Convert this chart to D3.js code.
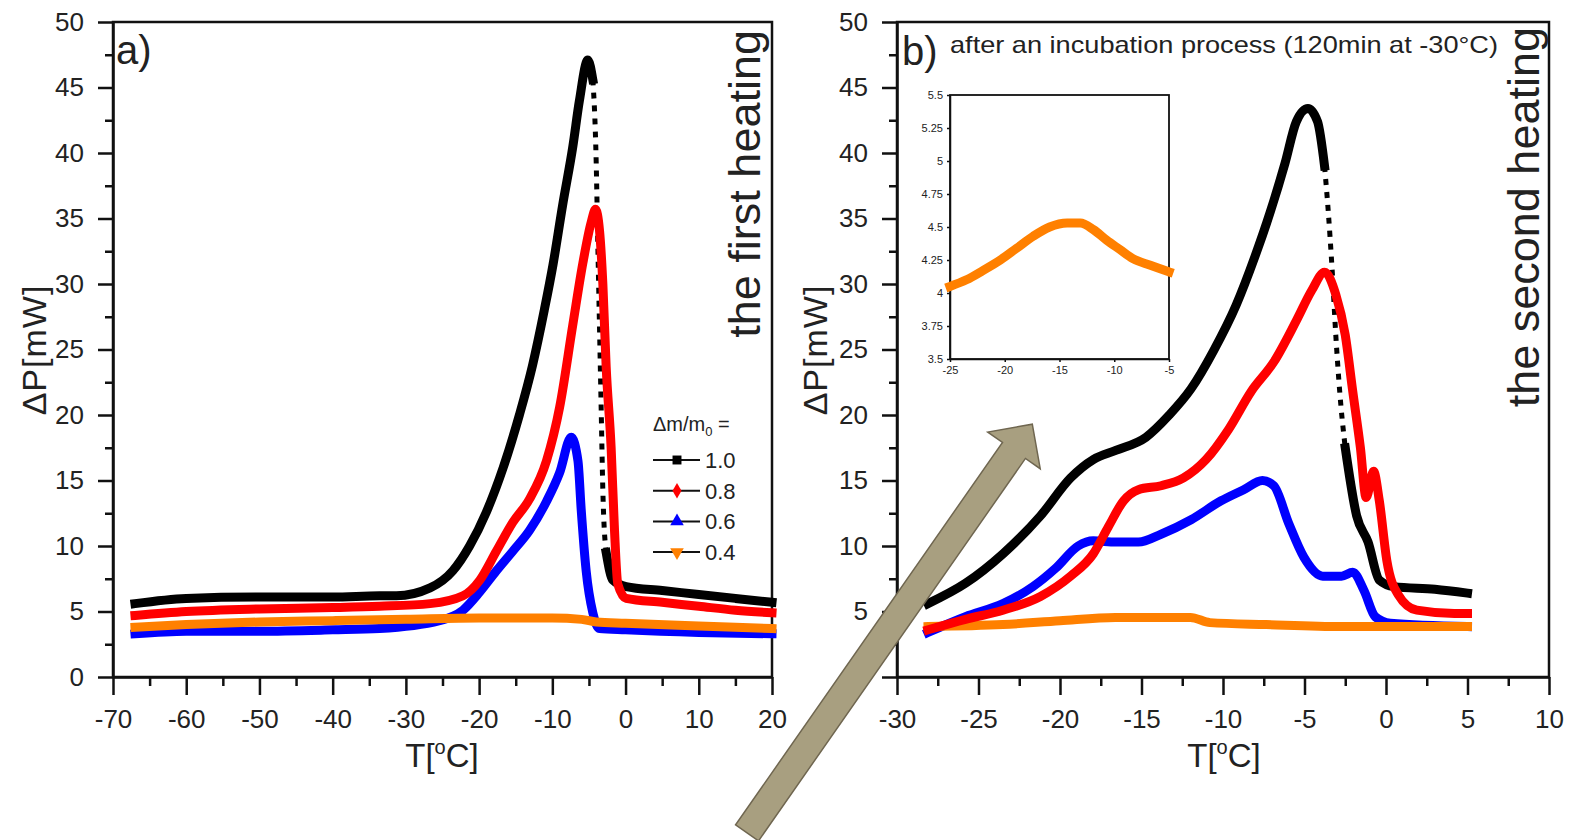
<!DOCTYPE html>
<html>
<head>
<meta charset="utf-8">
<script src="https://cdn.jsdelivr.net/npm/d3@7"></script>
<style>
  body { margin: 0; background: #fff; }
  text { font-family: "Liberation Sans", Arial, sans-serif; fill: #222; }
</style>
</head>
<body>
<svg id="chart" width="1573" height="840"></svg>
<script>
// ---- data: [T (°C), ΔP (mW)] ----
const blackA = [[-67,5.6],[-60,6.0],[-50,6.1],[-40,6.1],[-33.6,6.2],[-31.3,6.2],[-26.7,6.8],[-23.6,8.1],[-21.3,10.0],[-19.0,12.6],[-16.7,16.0],[-14.5,20.0],[-12.7,23.8],[-11.1,28.0],[-9.9,31.5],[-8.6,36.0],[-7.2,40.5],[-6.3,44.0],[-5.15,47.1],[-4.47,45.6],[-4.01,39.3],[-3.79,33.1],[-3.56,26.8],[-3.33,20.5],[-3.1,14.2],[-2.65,9.5],[-1.74,7.4],[0.08,6.9],[5,6.6],[10,6.3],[15,6.0],[20,5.7]];
const redA = [[-67,4.7],[-60,5.0],[-50,5.2],[-40,5.3],[-33.6,5.4],[-26.7,5.6],[-22.2,6.2],[-19.9,7.4],[-17.65,9.6],[-15.4,11.8],[-13.1,13.6],[-10.8,16.5],[-9.0,20.6],[-7.2,26.9],[-5.83,31.6],[-4.7,34.7],[-4.1,35.7],[-3.56,34.1],[-3.1,30.0],[-2.65,23.7],[-1.97,17.5],[-1.51,11.2],[-1.06,7.1],[0.08,6.0],[5,5.7],[10,5.4],[15,5.1],[20,4.9]];
const blueA = [[-67,3.3],[-60,3.5],[-50,3.5],[-40,3.6],[-33.6,3.7],[-25.4,4.3],[-22.2,5.1],[-19.9,6.5],[-17.65,8.1],[-15.4,9.6],[-13.1,11.2],[-10.8,13.4],[-9.0,15.6],[-7.42,18.3],[-6.5,16.5],[-6.06,12.8],[-5.38,8.1],[-4.47,4.9],[-3.56,3.7],[0,3.6],[10,3.4],[20,3.3]];
const orangeA = [[-67,3.8],[-60,4.0],[-50,4.2],[-40,4.3],[-30,4.4],[-20,4.5],[-10,4.5],[-6,4.4],[-4,4.2],[0,4.1],[10,3.9],[20,3.7]];

const blackB = [[-28.1,5.6],[-25.8,7.15],[-23.5,9.4],[-21.2,12.3],[-19.35,15.2],[-17.96,16.6],[-16.58,17.3],[-14.73,18.3],[-13.3,20.0],[-11.96,22.0],[-10.58,24.9],[-9.19,28.4],[-8.04,32.1],[-7.1,35.5],[-6.2,39.2],[-5.5,42.4],[-4.79,43.4],[-4.2,42.4],[-3.77,39.0],[-3.54,35.5],[-3.31,31.2],[-3.08,26.1],[-2.84,21.8],[-2.5,17.5],[-1.8,12.3],[-1.1,10.3],[-0.41,7.4],[0.5,6.9],[3.0,6.7],[5.0,6.4]];
const redB = [[-28.1,3.6],[-25.8,4.4],[-23.5,5.1],[-21.2,6.15],[-19.35,7.7],[-17.96,9.4],[-17.04,11.45],[-16.1,13.45],[-15.19,14.3],[-13.8,14.6],[-12.42,15.2],[-11.04,16.6],[-9.66,18.9],[-8.27,21.8],[-6.88,24.05],[-5.5,27.2],[-4.56,29.5],[-3.77,30.9],[-3.08,29.2],[-2.5,26.1],[-2.04,21.8],[-1.57,17.5],[-1.22,13.7],[-0.76,15.7],[-0.41,13.45],[0.05,8.9],[0.74,6.3],[1.89,5.1],[4.19,4.85],[5.0,4.85]];
const blueB = [[-28.1,3.4],[-25.8,4.6],[-23.5,5.6],[-21.66,6.9],[-20.27,8.3],[-18.89,10.0],[-17.96,10.4],[-16.58,10.3],[-15.19,10.3],[-13.8,10.9],[-11.96,12.0],[-10.12,13.45],[-8.73,14.3],[-7.58,15.0],[-6.88,14.6],[-5.96,11.7],[-5.04,9.15],[-3.88,7.7],[-2.73,7.7],[-2.04,8.0],[-1.35,6.6],[-0.66,4.6],[0.27,4.1],[5.0,3.85]];
const orangeB = [[-28.1,3.85],[-23.5,4.0],[-20.0,4.3],[-16.6,4.55],[-12.0,4.55],[-10.8,4.15],[-7.35,4.0],[-2.7,3.85],[5.0,3.85]];

const insetOrange = [[-25,4.05],[-23.5,4.10],[-22,4.17],[-20.4,4.25],[-18.9,4.34],[-17.4,4.43],[-15.9,4.50],[-14.3,4.53],[-13.1,4.53],[-11.9,4.48],[-10.7,4.40],[-9.5,4.33],[-8.3,4.26],[-6.7,4.21],[-5,4.16]];

// ranges where the sampled points are sparse (steep fall) -> dotted look
const sparseBlackA = [-4.47, -2.65];
const sparseBlackB = [-3.77, -2.5];

const legendTitle = "Δm/m";
const legendLabels = ["1.0", "0.8", "0.6", "0.4"];
const colors = ["#000000", "#ff0000", "#0000ff", "#ff8000"];

const xTicksA = d3.range(-70, 21, 10), xMinorA = d3.range(-65, 20, 10);
const xTicksB = d3.range(-30, 11, 5), xMinorB = d3.range(-27.5, 10, 5);
const yTicks = d3.range(0, 51, 5), yMinor = d3.range(2.5, 50, 5);
const insetXTicks = [-25, -20, -15, -10, -5];
const insetYTicks = [3.5, 3.75, 4, 4.25, 4.5, 4.75, 5, 5.25, 5.5];

// ---- drawing ----
const svg = d3.select('#chart');
svg.append('rect').attr('width', 1573).attr('height', 840).attr('fill', '#fff');

function styleAxis(g, size) {
  g.selectAll('path, line').attr('stroke', '#111').attr('stroke-width', 2.5);
  g.selectAll('text').attr('font-size', size).attr('font-family', '"Liberation Sans", Arial, sans-serif').attr('fill', '#222');
}

function drawFrame(x, y, xT, xM) {
  const g = svg.append('g');
  const [x0, x1] = x.range(), [y0, y1] = y.range();
  g.append('rect').attr('x', x0).attr('y', y1).attr('width', x1 - x0).attr('height', y0 - y1)
    .attr('fill', 'none').attr('stroke', '#111').attr('stroke-width', 2.5);

  const fmt = d => String(d);
  g.append('g').attr('transform', `translate(0,${y0})`)
    .call(d3.axisBottom(x).tickValues(xT).tickSize(18).tickSizeOuter(0).tickPadding(15).tickFormat(fmt))
    .call(a => styleAxis(a, 26));
  g.append('g').attr('transform', `translate(0,${y0})`)
    .call(d3.axisBottom(x).tickValues(xM).tickSize(9).tickSizeOuter(0).tickFormat(''))
    .call(a => { styleAxis(a, 26); a.select('.domain').remove(); });
  g.append('g').attr('transform', `translate(${x0},0)`)
    .call(d3.axisLeft(y).tickValues(yTicks).tickSize(15).tickSizeOuter(0).tickPadding(14).tickFormat(fmt))
    .call(a => styleAxis(a, 26));
  g.append('g').attr('transform', `translate(${x0},0)`)
    .call(d3.axisLeft(y).tickValues(yMinor).tickSize(8).tickSizeOuter(0).tickFormat(''))
    .call(a => { styleAxis(a, 26); a.select('.domain').remove(); });
}

function drawSeries(x, y, data, color, sparse) {
  const g = svg.append('g');
  const inside = d => sparse && d[0] > sparse[0] && d[0] < sparse[1];
  const line = d3.line().x(d => x(d[0])).y(d => y(d[1])).defined(d => !inside(d)).curve(d3.curveMonotoneX);
  g.append('path').datum(data).attr('d', line)
    .attr('fill', 'none').attr('stroke', color).attr('stroke-width', 9)
    .attr('stroke-linejoin', 'round').attr('stroke-linecap', 'square');
  if (sparse) {
    const pts = data.filter(d => d[0] >= sparse[0] && d[0] <= sparse[1]);
    g.append('path').datum(pts).attr('d', d3.line().x(d => x(d[0])).y(d => y(d[1])).curve(d3.curveMonotoneX))
      .attr('fill', 'none').attr('stroke', color).attr('stroke-width', 5)
      .attr('stroke-dasharray', '6 7');
  }
}

// Panel a
const xA = d3.scaleLinear().domain([-70, 20]).range([113, 772]);
const yA = d3.scaleLinear().domain([0, 50]).range([677, 22]);
drawFrame(xA, yA, xTicksA, xMinorA);
drawSeries(xA, yA, blackA, colors[0], sparseBlackA);
drawSeries(xA, yA, blueA, colors[2]);
drawSeries(xA, yA, orangeA, colors[3]);
drawSeries(xA, yA, redA, colors[1]);

// Panel b
const xB = d3.scaleLinear().domain([-30, 10]).range([897, 1549]);
const yB = d3.scaleLinear().domain([0, 50]).range([677, 22]);
drawFrame(xB, yB, xTicksB, xMinorB);
drawSeries(xB, yB, blackB, colors[0], sparseBlackB);
drawSeries(xB, yB, blueB, colors[2]);
drawSeries(xB, yB, orangeB, colors[3]);
drawSeries(xB, yB, redB, colors[1]);

// Inset
const xI = d3.scaleLinear().domain([-25, -5]).range([950, 1169]);
const yI = d3.scaleLinear().domain([3.5, 5.5]).range([359, 95]);
const gi = svg.append('g');
gi.append('rect').attr('x', 950).attr('y', 95).attr('width', 219).attr('height', 264)
  .attr('fill', '#fff').attr('stroke', '#111').attr('stroke-width', 1.8);
gi.append('g').attr('transform', 'translate(0,359)')
  .call(d3.axisBottom(xI).tickValues(insetXTicks).tickSize(3).tickSizeOuter(0).tickPadding(4).tickFormat(d => String(d)))
  .call(a => { styleAxis(a, 11); a.selectAll('path,line').attr('stroke-width', 1.5); a.selectAll('text').attr('fill', '#555'); });
gi.append('g').attr('transform', 'translate(950,0)')
  .call(d3.axisLeft(yI).tickValues(insetYTicks).tickSize(3).tickSizeOuter(0).tickPadding(4).tickFormat(d => String(d)))
  .call(a => { styleAxis(a, 11); a.selectAll('path,line').attr('stroke-width', 1.5); a.selectAll('text').attr('fill', '#555'); });
gi.append('path').datum(insetOrange)
  .attr('d', d3.line().x(d => xI(d[0])).y(d => yI(d[1])).curve(d3.curveMonotoneX))
  .attr('fill', 'none').attr('stroke', colors[3]).attr('stroke-width', 9).attr('stroke-linecap', 'square');

// Legend (panel a)
const lg = svg.append('g');
const lt = lg.append('text').attr('x', 653).attr('y', 431).attr('font-size', 20);
lt.append('tspan').text(legendTitle);
lt.append('tspan').attr('font-size', 13).attr('dy', 5).text('0');
lt.append('tspan').attr('dy', -5).text(' =');
const symbols = [d3.symbolSquare, d3.symbolDiamond, d3.symbolTriangle, d3.symbolTriangle];
legendLabels.forEach((lab, i) => {
  const yy = 460 + i * 30.7;
  lg.append('line').attr('x1', 653).attr('x2', 700).attr('y1', yy).attr('y2', yy)
    .attr('stroke', '#111').attr('stroke-width', 2);
  lg.append('path').attr('d', d3.symbol().type(symbols[i]).size(i === 1 ? 70 : 80)())
    .attr('transform', `translate(677,${yy}) rotate(${i === 3 ? 180 : 0})`)
    .attr('fill', colors[i]);
  lg.append('text').attr('x', 705).attr('y', yy + 8).attr('font-size', 22).text(lab);
});

// Axis titles
function yTitle(xp) {
  svg.append('text').attr('transform', `translate(${xp},350) rotate(-90)`)
    .attr('text-anchor', 'middle').attr('font-size', 34).attr('letter-spacing', 1).text('ΔP[mW]');
}
function xTitle(xp) {
  const t = svg.append('text').attr('x', xp).attr('y', 767).attr('text-anchor', 'middle').attr('font-size', 33);
  t.append('tspan').text('T[');
  t.append('tspan').attr('font-size', 20).attr('dy', -13).text('o');
  t.append('tspan').attr('dy', 13).text('C]');
}
yTitle(46); yTitle(827);
xTitle(442); xTitle(1224);

// Panel labels
svg.append('text').attr('x', 116).attr('y', 64).attr('font-size', 40).text('a)');
svg.append('text').attr('x', 902).attr('y', 65).attr('font-size', 40).text('b)');
svg.append('text').attr('x', 950).attr('y', 53).attr('font-size', 24)
  .attr('textLength', 548).attr('lengthAdjust', 'spacingAndGlyphs')
  .text('after an incubation process (120min at -30°C)');
svg.append('text').attr('transform', 'translate(760,30) rotate(-90)')
  .attr('text-anchor', 'end').attr('font-size', 45).attr('fill', '#222').text('the first heating');
svg.append('text').attr('transform', 'translate(1539,27) rotate(-90)')
  .attr('text-anchor', 'end').attr('font-size', 45).attr('fill', '#222').text('the second heating');

// Arrow annotation, anchored in panel b coordinates (tail lies below/left of the axes)
const arrowTail = [xB(-39.2), yB(-11.9)], arrowTip = [xB(-21.7), yB(19.3)];
(function drawArrow() {
  const dx = arrowTip[0] - arrowTail[0], dy = arrowTip[1] - arrowTail[1];
  const L = Math.hypot(dx, dy), ux = dx / L, uy = dy / L, nx = -uy, ny = ux;
  const hw = 14, hh = 32, hl = 32;
  const bx = arrowTail[0] + ux * (L - hl), by = arrowTail[1] + uy * (L - hl);
  const pts = [
    [arrowTail[0] + nx * hw, arrowTail[1] + ny * hw],
    [bx + nx * hw, by + ny * hw],
    [bx + nx * hh, by + ny * hh],
    arrowTip,
    [bx - nx * hh, by - ny * hh],
    [bx - nx * hw, by - ny * hw],
    [arrowTail[0] - nx * hw, arrowTail[1] - ny * hw]
  ];
  svg.append('polygon').attr('points', pts.map(p => p.join(',')).join(' '))
    .attr('fill', '#a89f80').attr('stroke', '#6f6650').attr('stroke-width', 1.5);
})();
</script>
</body>
</html>
